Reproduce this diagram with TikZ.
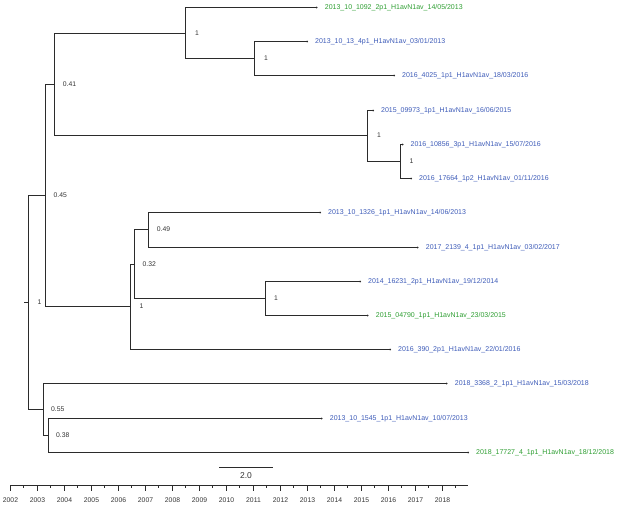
\documentclass[tikz,border=0pt]{standalone}
\usepackage{fontspec}
\setmainfont{Liberation Sans}
\definecolor{leafblue}{HTML}{3D5BB8}
\definecolor{leafgreen}{HTML}{2E9E32}
\definecolor{branch}{HTML}{2B2B2B}
\definecolor{supp}{HTML}{333333}
\begin{document}
\begin{tikzpicture}[x=1pt,y=-1pt,
  br/.style={draw=branch,line width=1.2pt},
  leafb/.style={anchor=west,inner sep=0pt,font=\fontsize{7}{8}\selectfont,text=leafblue},
  leafg/.style={anchor=west,inner sep=0pt,font=\fontsize{7}{8}\selectfont,text=leafgreen},
  sup/.style={anchor=west,inner sep=0pt,font=\fontsize{6.8}{8}\selectfont,text=supp},
  yr/.style={anchor=north,inner sep=0pt,font=\fontsize{6.8}{8}\selectfont,text=supp},
  tipdot/.style={fill=branch,draw=none,minimum size=2pt,inner sep=0pt,circle}]
\useasboundingbox (0,0) rectangle (617,506);
% internal nodes
\coordinate (R) at (28.5,302.5);
\coordinate (R0) at (24,302.5);
\coordinate (E) at (45.5,195.5);
\coordinate (C) at (54.5,84.5);
\coordinate (A) at (185.5,33.5);
\coordinate (B) at (254.5,58.5);
\coordinate (D) at (367.5,135.5);
\coordinate (F) at (400.5,161.5);
\coordinate (G) at (130.5,306.5);
\coordinate (H) at (134.5,264.5);
\coordinate (I) at (148.5,229.5);
\coordinate (J) at (265.5,298.5);
\coordinate (K) at (43.5,409.5);
\coordinate (L) at (48.5,435.5);
% tips
\coordinate (t1) at (316.7,7.5);
\coordinate (t2) at (307,41.5);
\coordinate (t3) at (394,75.5);
\coordinate (t4) at (373,110.5);
\coordinate (t5) at (402.5,144.5);
\coordinate (t6) at (411,178.5);
\coordinate (t7) at (320,212.5);
\coordinate (t8) at (417.7,247.5);
\coordinate (t9) at (360,281.5);
\coordinate (t10) at (367.7,315.5);
\coordinate (t11) at (390,349.5);
\coordinate (t12) at (446.7,383.5);
\coordinate (t13) at (321.7,418.5);
\coordinate (t14) at (468,452.5);
% branches
\draw[br] (R0) -- (R);
\draw[br] (R) |- (E);
\draw[br] (R) |- (K);
\draw[br] (E) |- (C);
\draw[br] (E) |- (G);
\draw[br] (C) |- (A);
\draw[br] (C) |- (D);
\draw[br] (A) |- (t1);
\draw[br] (A) |- (B);
\draw[br] (B) |- (t2);
\draw[br] (B) |- (t3);
\draw[br] (D) |- (t4);
\draw[br] (D) |- (F);
\draw[br] (F) |- (t5);
\draw[br] (F) |- (t6);
\draw[br] (G) |- (H);
\draw[br] (G) |- (t11);
\draw[br] (H) |- (I);
\draw[br] (H) |- (J);
\draw[br] (I) |- (t7);
\draw[br] (I) |- (t8);
\draw[br] (J) |- (t9);
\draw[br] (J) |- (t10);
\draw[br] (K) |- (t12);
\draw[br] (K) |- (L);
\draw[br] (L) |- (t13);
\draw[br] (L) |- (t14);
\foreach \t in {t1,t2,t3,t4,t5,t6,t7,t8,t9,t10,t11,t12,t13,t14}
  \node[tipdot] at (\t) {};
% leaf labels
\node[leafg] (l1) at ([xshift=8pt]t1) {2013\_10\_1092\_2p1\_H1avN1av\_14/05/2013};
\node[leafb] (l2) at ([xshift=8pt]t2) {2013\_10\_13\_4p1\_H1avN1av\_03/01/2013};
\node[leafb] (l3) at ([xshift=8pt]t3) {2016\_4025\_1p1\_H1avN1av\_18/03/2016};
\node[leafb] (l4) at ([xshift=8pt]t4) {2015\_09973\_1p1\_H1avN1av\_16/06/2015};
\node[leafb] (l5) at ([xshift=8pt]t5) {2016\_10856\_3p1\_H1avN1av\_15/07/2016};
\node[leafb] (l6) at ([xshift=8pt]t6) {2016\_17664\_1p2\_H1avN1av\_01/11/2016};
\node[leafb] (l7) at ([xshift=8pt]t7) {2013\_10\_1326\_1p1\_H1avN1av\_14/06/2013};
\node[leafb] (l8) at ([xshift=8pt]t8) {2017\_2139\_4\_1p1\_H1avN1av\_03/02/2017};
\node[leafb] (l9) at ([xshift=8pt]t9) {2014\_16231\_2p1\_H1avN1av\_19/12/2014};
\node[leafg] (l10) at ([xshift=8pt]t10) {2015\_04790\_1p1\_H1avN1av\_23/03/2015};
\node[leafb] (l11) at ([xshift=8pt]t11) {2016\_390\_2p1\_H1avN1av\_22/01/2016};
\node[leafb] (l12) at ([xshift=8pt]t12) {2018\_3368\_2\_1p1\_H1avN1av\_15/03/2018};
\node[leafb] (l13) at ([xshift=8pt]t13) {2013\_10\_1545\_1p1\_H1avN1av\_10/07/2013};
\node[leafg] (l14) at ([xshift=8pt]t14) {2018\_17727\_4\_1p1\_H1avN1av\_18/12/2018};
% support values
\node[sup] (sR) at ([xshift=9pt]R) {1};
\node[sup] (sE) at ([xshift=8pt]E) {0.45};
\node[sup] (sC) at ([xshift=8.2pt]C) {0.41};
\node[sup] (sA) at ([xshift=9.5pt]A) {1};
\node[sup] (sB) at ([xshift=9.5pt]B) {1};
\node[sup] (sD) at ([xshift=9.5pt]D) {1};
\node[sup] (sF) at ([xshift=9pt]F) {1};
\node[sup] (sG) at ([xshift=9pt]G) {1};
\node[sup] (sH) at ([xshift=8pt]H) {0.32};
\node[sup] (sI) at ([xshift=8.2pt]I) {0.49};
\node[sup] (sJ) at ([xshift=8.3pt]J) {1};
\node[sup] (sK) at ([xshift=7.5pt]K) {0.55};
\node[sup] (sL) at ([xshift=7.5pt]L) {0.38};
% scale bar
\coordinate (sb1) at (219,467.5);
\coordinate (sb2) at (273,467.5);
\draw[br] (sb1) -- (sb2);
\node[anchor=north,inner sep=0pt,font=\fontsize{8.5}{10}\selectfont,text=supp] (sbl) at (246,472.5) {2.0};
% time axis
\coordinate (ax1) at (10,485.5);
\coordinate (ax2) at (468,485.5);
\draw[br] (ax1) -- (ax2);
\foreach \k in {0,...,16}{
  \pgfmathsetmacro{\xx}{round(10+26.98*\k)+0.5}
  \pgfmathtruncatemacro{\yy}{2002+\k}
  \draw[br] (\xx,485.5) -- (\xx,490.5);
  \node[yr] at (\xx,497.5) {\yy};
}
\foreach \k in {0,...,16}{
  \pgfmathsetmacro{\xx}{round(10+26.98*\k+13.49)+0.5}
  \draw[br] (\xx,485.5) -- (\xx,487.5);
}
\end{tikzpicture}
\end{document}
